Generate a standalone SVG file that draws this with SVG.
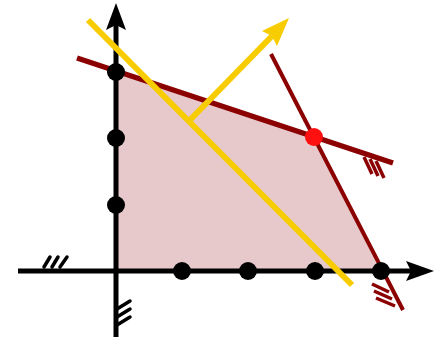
<svg xmlns="http://www.w3.org/2000/svg" width="442" height="343" viewBox="0 0 442 343">
<style>
.ax{stroke:#000;stroke-width:5;fill:none}
.hatchk{stroke:#000;stroke-width:3.5;fill:none;stroke-linecap:round}
.dr{stroke:#8b0000;fill:none}
.hatchr{stroke:#8b0000;stroke-width:3.5;fill:none}
.yl{stroke:#f7cc00;stroke-width:6;fill:none}
.dot{fill:#000}
</style>
<rect width="442" height="343" fill="#fff"/>
<g id="region">
<polygon points="116,271 116,72 314,137 380,271" fill="#e7c9cc"/>
</g>
<g id="axes">
<line class="ax" x1="116" y1="337" x2="116" y2="22"/>
<path d="M116,3 L126,30 L116,25 L106,30 Z" fill="#000"/>
<line class="ax" x1="18" y1="271" x2="412" y2="271"/>
<path d="M434,271 L406,261 L411,271 L406,281 Z" fill="#000"/>
<path class="hatchk" d="M44,267 L50,257 M52,267 L58,257 M60,267 L67,257"/>
<path class="hatchk" d="M117,309 L130,301 M117,317 L130,309 M117,325 L130,317"/>
</g>
<g id="constraints">
<line class="dr" stroke-width="5.5" x1="77" y1="58" x2="393" y2="163"/>
<path class="hatchr" d="M364,157 L372,174 M370,159 L378,176 M376,161 L384,178"/>
<line class="dr" stroke-width="4" x1="271" y1="54" x2="403" y2="310"/>
<path class="hatchr" d="M372,284 L389,292 M374,291 L392,299 M376,298 L395,306"/>
</g>
<g id="objective">
<line class="yl" x1="88" y1="20" x2="352" y2="285"/>
<line class="yl" x1="189" y1="121" x2="272" y2="36"/>
<path d="M289,18 L277,46 L272,36 L262,31 Z" fill="#f7cc00"/>
</g>
<g id="points">
<circle class="dot" cx="116" cy="72" r="9"/>
<circle class="dot" cx="116" cy="138" r="9"/>
<circle class="dot" cx="116" cy="205" r="9"/>
<circle class="dot" cx="182" cy="271" r="9"/>
<circle class="dot" cx="248" cy="271" r="9"/>
<circle class="dot" cx="315" cy="271" r="9"/>
<circle class="dot" cx="381" cy="271" r="9"/>
<circle cx="314" cy="137" r="9" fill="#ff1010"/>
</g>
</svg>
